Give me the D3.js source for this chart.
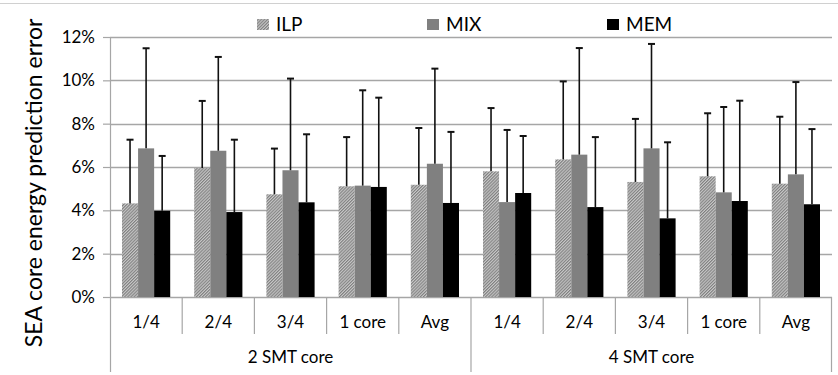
<!DOCTYPE html>
<html>
<head>
<meta charset="utf-8">
<script src="https://cdn.jsdelivr.net/npm/d3@7"></script>
<style>
  body { margin: 0; background: #fff; }
  svg { font-family: Lato, "Liberation Sans", sans-serif; }
</style>
</head>
<body>
<div id="chart"></div>
<script>
// categories and series (values in %)
var groups = ["2 SMT core", "4 SMT core"];
var subCats = ["1/4", "2/4", "3/4", "1 core", "Avg"];
var seriesNames = ["ILP", "MIX", "MEM"];
var ilpVals = [4.32, 5.95, 4.74, 5.11, 5.18, 5.80, 6.35, 5.31, 5.57, 5.23];
var mixVals = [6.86, 6.75, 5.85, 5.14, 6.15, 4.38, 6.57, 6.86, 4.83, 5.66];
var memVals = [3.98, 3.92, 4.37, 5.08, 4.34, 4.80, 4.15, 3.63, 4.43, 4.28];
var ilpErrTop = [7.26, 9.05, 6.85, 7.38, 7.80, 8.72, 9.95, 8.22, 8.48, 8.32];
var mixErrTop = [11.48, 11.08, 10.08, 9.54, 10.54, 7.71, 11.49, 11.68, 8.77, 9.92];
var memErrTop = [6.51, 7.26, 7.51, 9.20, 7.62, 7.43, 7.38, 7.14, 9.06, 7.75];
var yTicks = [0, 2, 4, 6, 8, 10, 12];

var W = 838, H = 375;
var margin = {top: 37, right: 6, bottom: 78, left: 110};
var width = W - margin.left - margin.right;
var height = H - margin.top - margin.bottom;

var svg = d3.select("#chart").append("svg")
    .attr("width", W).attr("height", H);

var defs = svg.append("defs");
var pat = defs.append("pattern")
    .attr("id", "hatch")
    .attr("patternUnits", "userSpaceOnUse")
    .attr("width", 2.2).attr("height", 2.2)
    .attr("patternTransform", "rotate(45)");
pat.append("rect").attr("width", 2.2).attr("height", 2.2).attr("fill", "#c8c8c8");
pat.append("rect").attr("width", 1.1).attr("height", 2.2).attr("fill", "#808080");

// outer frame line at top
svg.append("line").attr("x1", 0).attr("x2", W).attr("y1", 3.5).attr("y2", 3.5)
    .attr("stroke", "#d0d0d0").attr("stroke-width", 1);

var g = svg.append("g").attr("transform", "translate(" + margin.left + "," + margin.top + ")");

var keys = [];
groups.forEach(function(gr) { subCats.forEach(function(c) { keys.push(gr + "|" + c); }); });

var x0 = d3.scaleBand().domain(keys).range([0, width]).paddingInner(0).paddingOuter(0);
var x1 = d3.scaleBand().domain(seriesNames).range([12, x0.bandwidth() - 12]);
var y = d3.scaleLinear().domain([0, 12]).range([height, 0]);

var fills = {ILP: "url(#hatch)", MIX: "#808080", MEM: "#000"};
var vals = {ILP: ilpVals, MIX: mixVals, MEM: memVals};
var errs = {ILP: ilpErrTop, MIX: mixErrTop, MEM: memErrTop};

// gridlines
g.append("g").selectAll("line").data(yTicks).enter().append("line")
    .attr("x1", 0).attr("x2", width)
    .attr("y1", function(d) { return Math.round(y(d)) + 0.5; })
    .attr("y2", function(d) { return Math.round(y(d)) + 0.5; })
    .attr("stroke", "#a6a6a6").attr("stroke-width", 1.5);

// y axis
var yAxis = g.append("g")
    .call(d3.axisLeft(y).tickValues(yTicks).tickSize(7).tickPadding(8)
      .tickFormat(function(d) { return d + "%"; }));
yAxis.select(".domain").remove();
yAxis.selectAll(".tick line").attr("stroke", "#a6a6a6").attr("stroke-width", 1.2);
yAxis.selectAll(".tick text").attr("font-size", 17).attr("fill", "#000")
    .attr("font-family", "Lato, sans-serif");
g.append("line").attr("x1", 0.5).attr("x2", 0.5).attr("y1", 0).attr("y2", H - margin.top - 3)
    .attr("stroke", "#a6a6a6").attr("stroke-width", 1.2);

// bars
seriesNames.forEach(function(s) {
  g.append("g").selectAll("rect").data(keys).enter().append("rect")
      .attr("x", function(k) { return x0(k) + x1(s); })
      .attr("width", x1.bandwidth())
      .attr("y", function(k, i) { return y(vals[s][i]); })
      .attr("height", function(k, i) { return height - y(vals[s][i]); })
      .attr("fill", fills[s]);
});

// error bars (upper only)
seriesNames.forEach(function(s) {
  var eg = g.append("g").attr("stroke", "#111").attr("stroke-width", 1.6);
  keys.forEach(function(k, i) {
    var cx = x0(k) + x1(s) + x1.bandwidth() / 2;
    eg.append("line").attr("x1", cx).attr("x2", cx)
        .attr("y1", y(vals[s][i])).attr("y2", y(errs[s][i]));
    eg.append("line").attr("x1", cx - 3.5).attr("x2", cx + 3.5)
        .attr("y1", y(errs[s][i])).attr("y2", y(errs[s][i])).attr("stroke-width", 2);
  });
});

// x axis line
g.append("line").attr("x1", -7).attr("x2", width).attr("y1", height + 0.5).attr("y2", height + 0.5)
    .attr("stroke", "#a6a6a6").attr("stroke-width", 1.2);

// category separators and labels
var xa = g.append("g").attr("transform", "translate(0," + height + ")");
keys.forEach(function(k, i) {
  var xs = x0(k);
  var isGroupEdge = (i % subCats.length === 0);
  if (i > 0) {
    xa.append("line").attr("x1", xs).attr("x2", xs).attr("y1", 0)
        .attr("y2", isGroupEdge ? 75 : 37)
        .attr("stroke", "#a6a6a6").attr("stroke-width", 1.2);
  }
  xa.append("text").attr("x", xs + x0.bandwidth() / 2).attr("y", 31)
      .attr("text-anchor", "middle").attr("font-size", 17).attr("fill", "#000")
      .text(k.split("|")[1]);
});
xa.append("line").attr("x1", width - 0.5).attr("x2", width - 0.5).attr("y1", 0).attr("y2", 75)
    .attr("stroke", "#a6a6a6").attr("stroke-width", 1.2);
groups.forEach(function(gr, j) {
  var first = x0(gr + "|" + subCats[0]);
  var last = x0(gr + "|" + subCats[subCats.length - 1]) + x0.bandwidth();
  xa.append("text").attr("x", (first + last) / 2).attr("y", 66)
      .attr("text-anchor", "middle").attr("font-size", 17).attr("fill", "#000")
      .text(gr);
});

// y title
svg.append("text")
    .attr("transform", "translate(42,183) rotate(-90)")
    .attr("text-anchor", "middle").attr("font-size", 23).attr("fill", "#000")
    .text("SEA core energy prediction error");

// legend
var legX = [257, 427, 607];
var leg = svg.append("g");
seriesNames.forEach(function(s, i) {
  leg.append("rect").attr("x", legX[i]).attr("y", 19).attr("width", 12).attr("height", 11)
      .attr("fill", fills[s]);
  leg.append("text").attr("x", legX[i] + 19).attr("y", 30.5)
      .attr("font-size", 19).attr("fill", "#000").text(s);
});
</script>
</body>
</html>
